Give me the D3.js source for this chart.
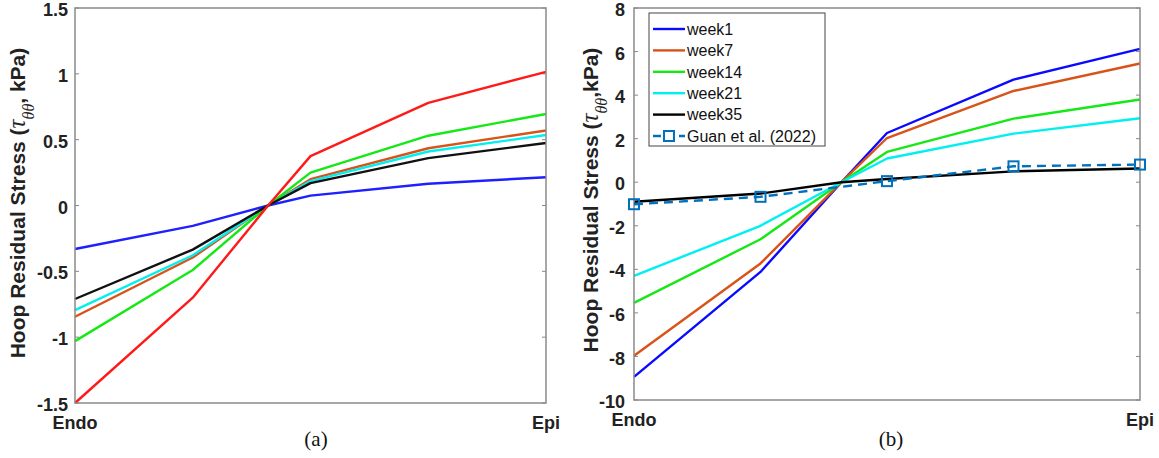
<!DOCTYPE html>
<html lang="en">
    <head>
        <meta charset="utf-8">
        <title>Hoop Residual Stress</title>
        <script src="https://d3js.org/d3.v7.min.js"></script>
        <style type="text/css">
            body { margin: 0; background: white; }
            text { font-family: Arial, "Liberation Sans", sans-serif; }
            .tick-label { font-size: 18px; font-weight: bold; fill: #222; }
            .ylab { font-size: 21px; font-weight: bold; fill: #222; }
            .panel-tag { font-family: "Times New Roman", "Liberation Serif", serif; font-size: 21px; fill: #111; }
            .legend-text { font-size: 16px; fill: #111; }
        </style>
    </head>
    <body>
        <svg width="1159" height="458"></svg>
        <script type="text/javascript">

            // transmural position (Endo = 0, Epi = 1); third point is where all curves cross zero
            const xPos = [0, 0.25, 0.41, 0.5, 0.75, 1];
            const guanX = [0, 0.25, 0.5, 0.75, 1];

            // panel (a)
            const aTicks = [-1.5, -1, -0.5, 0, 0.5, 1, 1.5];
            const aBlue   = [-0.33, -0.155, 0, 0.075, 0.165, 0.215];
            const aOrange = [-0.845, -0.395, 0, 0.2, 0.435, 0.57];
            const aCyan   = [-0.795, -0.378, 0, 0.185, 0.41, 0.535];
            const aBlack  = [-0.71, -0.335, 0, 0.17, 0.36, 0.475];
            const aGreen  = [-1.03, -0.49, 0, 0.25, 0.53, 0.695];
            const aRed    = [-1.5, -0.7, 0, 0.375, 0.78, 1.015];

            // panel (b)
            const bTicks = [-10, -8, -6, -4, -2, 0, 2, 4, 6, 8];
            const legendNames = ["week1", "week7", "week14", "week21", "week35", "Guan et al. (2022)"];
            const bWeek1  = [-8.94, -4.12, 0, 2.26, 4.71, 6.12];
            const bWeek7  = [-7.97, -3.73, 0, 2.03, 4.19, 5.45];
            const bWeek14 = [-5.54, -2.62, 0, 1.39, 2.92, 3.8];
            const bWeek21 = [-4.3, -2.0, 0, 1.09, 2.23, 2.94];
            const bWeek35 = [-0.9, -0.52, 0, 0.15, 0.5, 0.63];
            const guan    = [-1.01, -0.67, 0.05, 0.73, 0.81];

            const svg = d3.select("svg");
            const line = (x, y, xs) => d3.line().x((d, i) => x(xs[i])).y(d => y(d));

            function drawPanel(p) {
                const x = d3.scaleLinear().domain([0, 1]).range([p.left, p.right]);
                const y = d3.scaleLinear().domain(p.domain).range([p.bottom, p.top]);
                const g = svg.append("g");

                // ticks inside, left and right
                g.selectAll(".tl").data(p.ticks).enter().append("line")
                    .attr("x1", p.left).attr("x2", p.left + 4)
                    .attr("y1", d => y(d)).attr("y2", d => y(d))
                    .attr("stroke", "#888").attr("stroke-width", 1);
                g.selectAll(".tr").data(p.ticks).enter().append("line")
                    .attr("x1", p.right).attr("x2", p.right - 4)
                    .attr("y1", d => y(d)).attr("y2", d => y(d))
                    .attr("stroke", "#888").attr("stroke-width", 1);
                g.selectAll(".tick-label").data(p.ticks).enter().append("text")
                    .attr("class", "tick-label")
                    .attr("x", p.left - p.labelGap).attr("y", d => y(d))
                    .attr("dy", "0.45em").attr("text-anchor", "end")
                    .text(d => d);

                // series
                p.series.forEach(s => {
                    g.append("path").datum(s.values)
                        .attr("d", line(x, y, xPos))
                        .attr("fill", "none").attr("stroke", s.color)
                        .attr("stroke-width", 2.4).attr("stroke-linejoin", "round");
                });

                // box
                g.append("rect")
                    .attr("x", p.left).attr("y", p.top)
                    .attr("width", p.right - p.left).attr("height", p.bottom - p.top)
                    .attr("fill", "none").attr("stroke", "#8a8a8a").attr("stroke-width", 1.5);

                g.append("text").attr("class", "tick-label")
                    .attr("x", x(0)).attr("y", p.bottom + 26).attr("text-anchor", "middle").text("Endo");
                g.append("text").attr("class", "tick-label")
                    .attr("x", x(1)).attr("y", p.bottom + 26).attr("text-anchor", "middle").text("Epi");
                g.append("text").attr("class", "panel-tag")
                    .attr("x", p.tagX).attr("y", 446).attr("text-anchor", "middle").text(p.tag);

                // y label with tau subscript
                const yl = g.append("text").attr("class", "ylab")
                    .attr("transform", `translate(${p.ylabX},${p.ylabY}) rotate(-90)`)
                    .attr("text-anchor", "middle");
                yl.append("tspan").text("Hoop Residual Stress (");
                yl.append("tspan").attr("font-family", "'Liberation Serif', serif")
                    .attr("font-style", "italic").attr("font-weight", "normal")
                    .attr("font-size", "25px").text("τ");
                yl.append("tspan").attr("font-family", "'Liberation Serif', serif")
                    .attr("font-style", "italic").attr("font-weight", "normal")
                    .attr("font-size", "16px").attr("baseline-shift", "sub").text("θθ");
                yl.append("tspan").text(p.unit);

                return { x, y, g };
            }

            drawPanel({
                left: 75, right: 546, top: 8, bottom: 403, domain: [-1.5, 1.5],
                ticks: aTicks, labelGap: 7, tag: "(a)", tagX: 316,
                ylabX: 25, ylabY: 203, unit: ", kPa)",
                series: [
                    { values: aBlue, color: "#1f1fff" },
                    { values: aOrange, color: "#d95319" },
                    { values: aCyan, color: "#00f0f0" },
                    { values: aGreen, color: "#16e816" },
                    { values: aBlack, color: "#111" },
                    { values: aRed, color: "#ff1a1a" }
                ]
            });

            const bColors = ["#0a0aff", "#d95319", "#16e816", "#00f0f0", "#000"];
            const pb = drawPanel({
                left: 634, right: 1140, top: 8, bottom: 400, domain: [-10, 8],
                ticks: bTicks, labelGap: 9, tag: "(b)", tagX: 891,
                ylabX: 598, ylabY: 200, unit: ",kPa)",
                series: [bWeek1, bWeek7, bWeek14, bWeek21, bWeek35]
                    .map((v, i) => ({ values: v, color: bColors[i] }))
            });

            // Guan et al. dashed with square markers
            pb.g.append("path").datum(guan)
                .attr("d", line(pb.x, pb.y, guanX))
                .attr("fill", "none").attr("stroke", "#0072bd")
                .attr("stroke-width", 2.4).attr("stroke-dasharray", "9,6");
            pb.g.selectAll(".mk").data(guan).enter().append("rect")
                .attr("x", (d, i) => pb.x(guanX[i]) - 5).attr("y", d => pb.y(d) - 5)
                .attr("width", 10).attr("height", 10)
                .attr("fill", "none").attr("stroke", "#0072bd").attr("stroke-width", 2);

            // legend
            const lg = svg.append("g");
            lg.append("rect").attr("x", 649).attr("y", 13).attr("width", 176).attr("height", 133)
                .attr("fill", "white").attr("stroke", "#444").attr("stroke-width", 1);
            legendNames.forEach((name, i) => {
                const ly = 29 + i * 21.4;
                const col = i < 5 ? bColors[i] : "#0072bd";
                lg.append("line").attr("x1", 653).attr("x2", 685).attr("y1", ly).attr("y2", ly)
                    .attr("stroke", col).attr("stroke-width", 2.4)
                    .attr("stroke-dasharray", i < 5 ? null : "8,5");
                if (i === 5) {
                    lg.append("rect").attr("x", 664).attr("y", ly - 5).attr("width", 10).attr("height", 10)
                        .attr("fill", "white").attr("stroke", col).attr("stroke-width", 2);
                }
                lg.append("text").attr("class", "legend-text")
                    .attr("x", 687).attr("y", ly).attr("dy", "0.36em").text(name);
            });

        </script>
    </body>
</html>
